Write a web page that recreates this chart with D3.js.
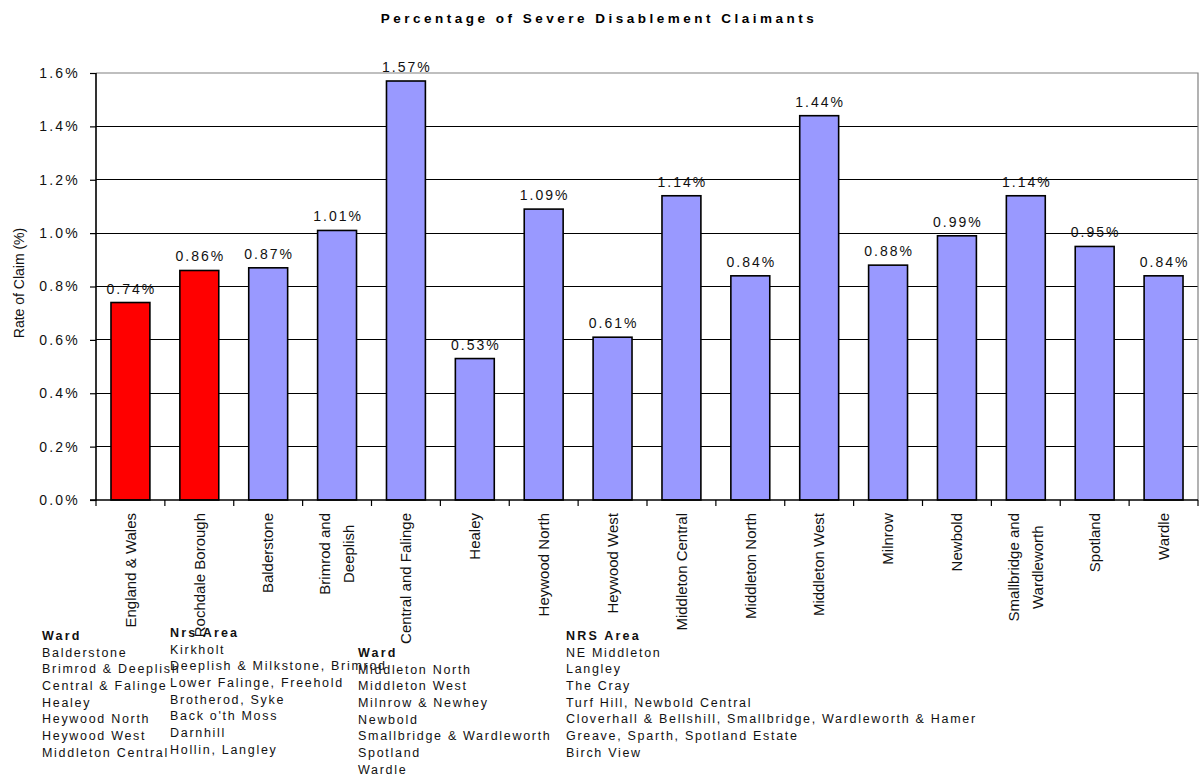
<!DOCTYPE html>
<html><head><meta charset="utf-8">
<script src="https://cdn.jsdelivr.net/npm/d3@7"></script>
<style>
body{margin:0;background:#fff;}
svg{display:block;font-family:"Liberation Sans",Arial,sans-serif;}
</style></head>
<body>
<svg id="chart" width="1199" height="775"></svg>
<script>
const categories = ["England & Wales","Rochdale Borough","Balderstone","Brimrod and|Deeplish","Central and Falinge","Healey","Heywood North","Heywood West","Middleton Central","Middleton North","Middleton West","Milnrow","Newbold","Smallbridge and|Wardleworth","Spotland","Wardle"];
const values = [0.74,0.86,0.87,1.01,1.57,0.53,1.09,0.61,1.14,0.84,1.44,0.88,0.99,1.14,0.95,0.84];
const highlighted = [true,true,false,false,false,false,false,false,false,false,false,false,false,false,false,false];
const yTicks = [0,0.2,0.4,0.6,0.8,1.0,1.2,1.4,1.6];
const title = "Percentage of Severe Disablement Claimants";
const yTitle = "Rate of Claim (%)";
const legendWard1 = ["Balderstone","Brimrod & Deeplish","Central & Falinge","Healey","Heywood North","Heywood West","Middleton Central"];
const legendArea1 = ["Kirkholt","Deeplish & Milkstone, Brimrod","Lower Falinge, Freehold","Brotherod, Syke","Back o'th Moss","Darnhill","Hollin, Langley"];
const legendWard2 = ["Middleton North","Middleton West","Milnrow & Newhey","Newbold","Smallbridge & Wardleworth","Spotland","Wardle"];
const legendArea2 = ["NE Middleton","Langley","The Cray","Turf Hill, Newbold Central","Cloverhall & Bellshill, Smallbridge, Wardleworth & Hamer","Greave, Sparth, Spotland Estate","Birch View"];

const svg = d3.select("#chart");
const L = 96, R = 1198, T = 73, B = 500;
const x = d3.scaleBand().domain(categories).range([L, R]).padding(0);
const y = d3.scaleLinear().domain([0, 1.6]).range([B, T]);
const barW = x.bandwidth() * 0.565;

// title
svg.append("text").attr("x", 599).attr("y", 23).attr("text-anchor", "middle")
  .attr("font-size", 13.5).attr("font-weight", "bold").attr("letter-spacing", 3.5)
  .text(title);

// gridlines
svg.append("g").selectAll("line").data(yTicks.filter(d => d > 0 && d < 1.6)).join("line")
  .attr("x1", L).attr("x2", R).attr("y1", d => y(d)).attr("y2", d => y(d))
  .attr("stroke", "#000").attr("stroke-width", 1).attr("shape-rendering", "crispEdges");
// plot border top/right
svg.append("path").attr("d", `M${L},${y(1.6)}H${R}V${B}`).attr("fill", "none")
  .attr("stroke", "#808080").attr("stroke-width", 1.2);

// bars
svg.append("g").selectAll("rect").data(values).join("rect")
  .attr("x", (d, i) => x(categories[i]) + (x.bandwidth() - barW) / 2)
  .attr("width", barW)
  .attr("y", d => y(d)).attr("height", d => B - y(d))
  .attr("fill", (d, i) => highlighted[i] ? "#FF0000" : "#9999FF")
  .attr("stroke", "#000").attr("stroke-width", 1.6);

// data labels
svg.append("g").selectAll("text").data(values).join("text")
  .attr("x", (d, i) => x(categories[i]) + x.bandwidth() / 2 + 1)
  .attr("y", d => y(d) - 9)
  .attr("text-anchor", "middle").attr("font-size", 14).attr("letter-spacing", 2)
  .attr("fill", "#111")
  .text(d => d.toFixed(2) + "%");

// y axis
const yAxis = d3.axisLeft(y).tickValues(yTicks).tickSize(6).tickPadding(10)
  .tickFormat(d => d.toFixed(1) + "%");
const gy = svg.append("g").attr("transform", `translate(${L},0)`).call(yAxis);
gy.select(".domain").attr("stroke", "#000").attr("stroke-width", 1.6).attr("d", `M-6,${B}H0V${T}`);
gy.selectAll(".tick line").attr("stroke", "#000").attr("stroke-width", 1.2);
gy.selectAll(".tick text").attr("font-size", 14).attr("letter-spacing", 2.2)
  .attr("font-family", "Liberation Sans, Arial, sans-serif").attr("fill", "#111");

// x axis
const xAxis = d3.axisBottom(x).tickSize(0).tickFormat("");
const gx = svg.append("g").attr("transform", `translate(0,${B})`).call(xAxis);
gx.select(".domain").attr("stroke", "#000").attr("stroke-width", 1.6).attr("d", `M${L},0H${R}`);
gx.selectAll(".tick").remove();
const bounds = categories.map(c => x(c)).concat([R]);
gx.selectAll("line.tk").data(bounds).join("line").attr("class", "tk")
  .attr("x1", d => d).attr("x2", d => d).attr("y1", 0).attr("y2", 6)
  .attr("stroke", "#000").attr("stroke-width", 1.2);

// category labels (rotated)
const labTop = 513;
categories.forEach(c => {
  const lines = c.split("|");
  const cx = x(c) + x.bandwidth() / 2;
  const g = svg.append("g");
  const texts = lines.map((ln, k) => {
    const off = (k - (lines.length - 1) / 2) * 24;
    return g.append("text").attr("font-size", 15).attr("fill", "#111")
      .attr("text-anchor", "middle").attr("dy", "0.35em").text(ln)
      .attr("data-x", cx + off);
  });
  const W = d3.max(texts, t => t.node().getComputedTextLength());
  texts.forEach(t => {
    const tx = +t.attr("data-x");
    const ty = labTop + W / 2;
    t.attr("transform", `translate(${tx},${ty}) rotate(-90)`);
  });
});

// y axis title
svg.append("text").attr("transform", "translate(19,283) rotate(-90)")
  .attr("text-anchor", "middle").attr("dy", "0.35em").attr("font-size", 14).attr("fill", "#111")
  .text(yTitle);

// legend blocks
function block(xp, headY, head, items) {
  const g = svg.append("g").attr("font-size", 12.5).attr("fill", "#111").attr("letter-spacing", 1.7);
  g.append("text").attr("x", xp).attr("y", headY).attr("font-weight", "bold").attr("letter-spacing", 2.2).text(head);
  g.selectAll("text.it").data(items).join("text").attr("class", "it")
    .attr("x", xp).attr("y", (d, i) => headY + 16.65 * (i + 1)).text(d => d);
}
block(42, 640, "Ward", legendWard1);
block(170, 637, "Nrs Area", legendArea1);
block(358, 657, "Ward", legendWard2);
block(566, 640, "NRS Area", legendArea2);
</script>
</body></html>
